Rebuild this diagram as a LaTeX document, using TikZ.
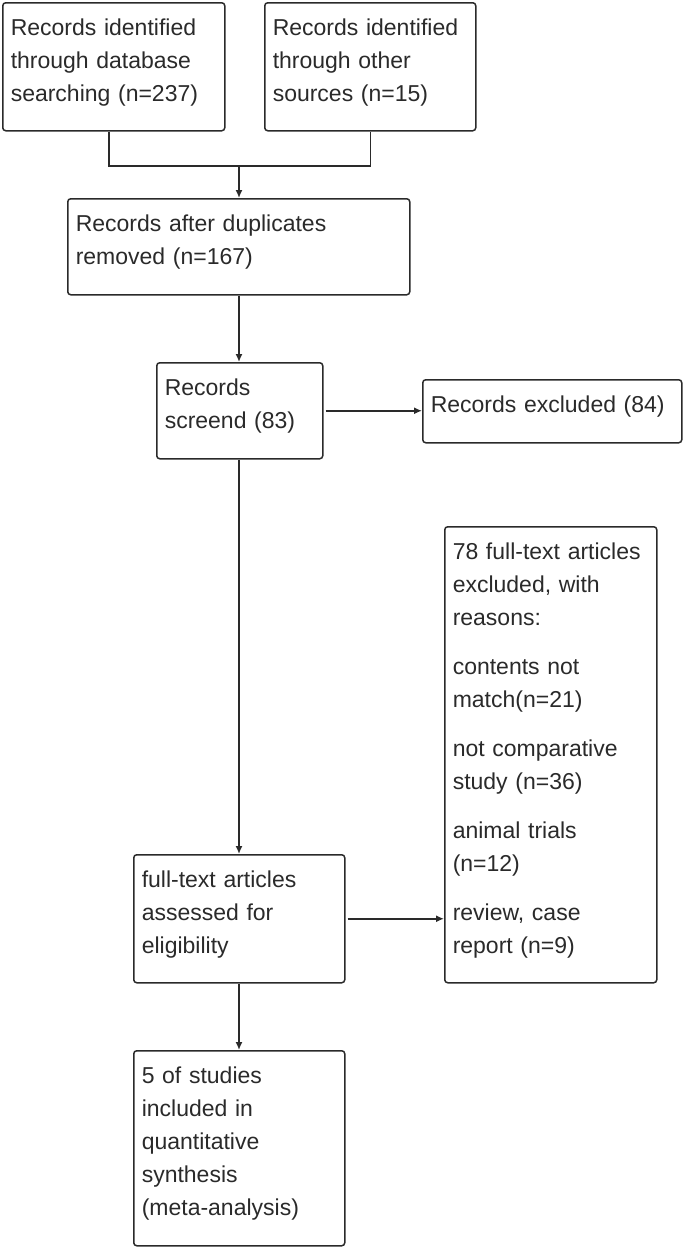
\documentclass[tikz,border=0pt]{standalone}
\usepackage{fontspec}
\setmainfont{Liberation Sans}
\usepackage{tikz}
\usepackage{xcolor}
\usetikzlibrary{arrows.meta, calc, positioning}

\definecolor{inkgray}{HTML}{2A2A2A}

\tikzset{
    prisma/.style={draw=inkgray, line width=1.5pt, rounded corners=3pt, align=left,
        text=inkgray, inner xsep=8pt, inner ysep=8pt, text height=25pt,
        anchor=north west, font=\fontsize{23}{33}\selectfont},
    flow/.style={draw=inkgray, line width=1.5pt},
    flowarrow/.style={flow, -{Latex[length=8pt,width=7pt]}}
}

\begin{document}
\begin{tikzpicture}[x=1pt, y=-1pt]
                            \useasboundingbox (0,0) rectangle (685,1248);

                            \node[prisma, text width=206pt, text depth=87pt] (db) at (2,2)
                                {Records identified\\through database\\searching (n=237)};
                            \node[prisma, text width=195pt, text depth=87pt] (other) at (264,2)
                                {Records identified\\through other\\sources (n=15)};
                            \node[prisma, text width=326pt, text depth=55pt] (dup) at (67,198)
                                {Records after duplicates\\removed (n=167)};
                            \node[prisma, text width=150pt, text depth=55pt] (screen) at (156,362)
                                {Records\\screend (83)};
                            \node[prisma, text width=243pt, text depth=22pt] (excl) at (422,379)
                                {Records excluded (84)};
                            \node[prisma, text width=196pt, text depth=415pt] (reasons) at (444,526)
                                {78 full-text articles\\excluded, with\\reasons:\\[16pt]
                                 contents not\\match(n=21)\\[16pt]
                                 not comparative\\study (n=36)\\[16pt]
                                 animal trials\\(n=12)\\[16pt]
                                 review, case\\report (n=9)};
                            \node[prisma, text width=195pt, text depth=87pt] (full) at (133,854)
                                {full-text articles\\assessed for\\eligibility};
                            \node[prisma, text width=195pt, text depth=154pt] (incl) at (133,1050)
                                {5 of studies\\included in\\quantitative\\synthesis\\(meta-analysis)};

                            \coordinate (join) at (239,166);

                            \draw[flow] ([xshift=-5pt]db.south) |- (join) -| (other.south);
                            \draw[flowarrow] (join) -- (join |- dup.north);
                            \draw[flowarrow] (dup.south -| join) -- (join |- screen.north);
                            \draw[flowarrow] ([xshift=2pt]screen.east) -- (screen.east -| excl.west);
                            \draw[flowarrow] (screen.south -| join) -- (join |- full.north);
                            \draw[flowarrow] ([xshift=2pt]full.east) -- (full.east -| reasons.west);
                            \draw[flowarrow] (full.south -| join) -- (join |- incl.north);
                        \end{tikzpicture}
\end{document}
